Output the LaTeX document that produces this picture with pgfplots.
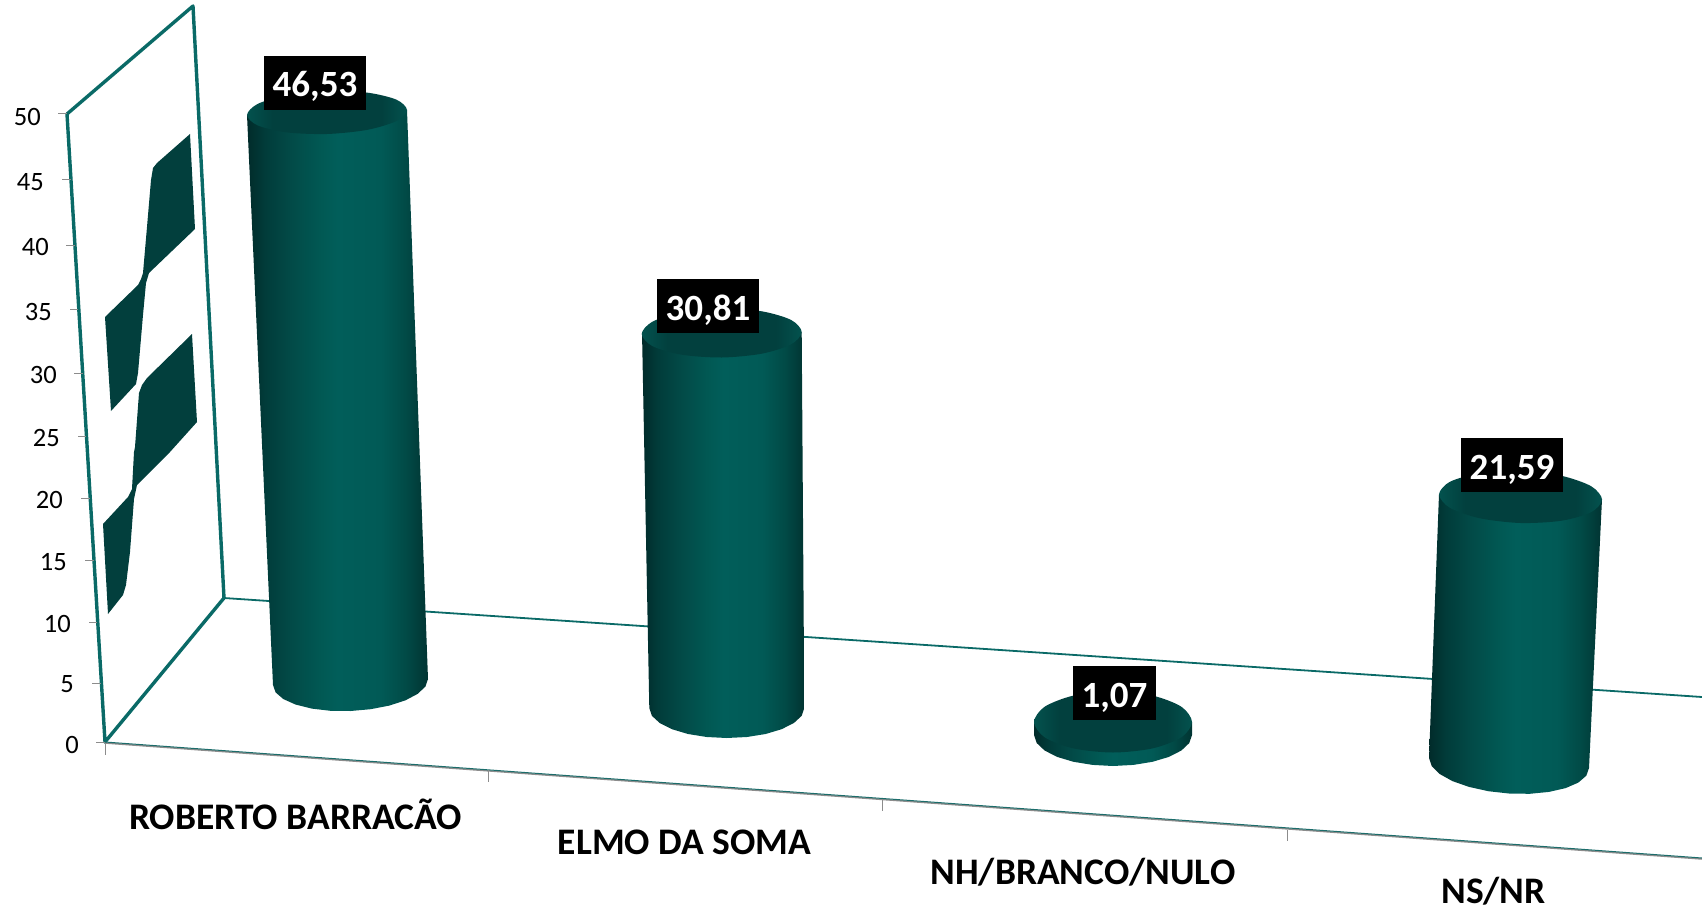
\documentclass[border=0pt]{standalone}
\usepackage{fontspec}
\setmainfont{Carlito}
\usepackage{pgfplots}
\pgfplotsset{compat=1.18}
\definecolor{wallc}{HTML}{0A6A67}
\definecolor{bandc}{HTML}{023F3D}
\definecolor{tickc}{HTML}{8C8C8C}
\definecolor{shA}{HTML}{012B2A}
\definecolor{shA2}{HTML}{013C3A}
\definecolor{shB}{HTML}{024A47}
\definecolor{shC}{HTML}{015853}
\definecolor{shD}{HTML}{015E5A}
\definecolor{shE}{HTML}{015A56}
\definecolor{shF}{HTML}{014A46}
\definecolor{shG}{HTML}{013432}
\definecolor{capA}{HTML}{03524E}
\definecolor{capB}{HTML}{02403E}
\pgfdeclarehorizontalshading{cyl}{100bp}{color(0bp)=(shA); color(25bp)=(shA); color(30bp)=(shA2); color(37bp)=(shB); color(45bp)=(shC); color(50bp)=(shD); color(62bp)=(shE); color(69bp)=(shF); color(75bp)=(shG); color(100bp)=(shG)}
\pgfdeclarehorizontalshading{cap}{100bp}{color(0bp)=(capA); color(25bp)=(capA); color(33bp)=(capB); color(67bp)=(capB); color(75bp)=(capA); color(100bp)=(capA)}
\begin{document}
\begin{tikzpicture}
\begin{axis}[
  hide axis, scale only axis, width=1702pt, height=912pt,
  xmin=0, xmax=1702, ymin=0, ymax=912, y dir=reverse,
  clip=true, unbounded coords=jump]
% wall ribbons
\addplot[fill=bandc, draw=none] coordinates {(190,134)(195,229)(149,273)(146,283)(143,315)(140,350)(138,373)(136,384)(111,411)(105,317)(138,285)(141,279)(143,273)(147,227)(151,180)(153,168)(157,163)(190,134)};
\addplot[fill=bandc, draw=none] coordinates {(192,334)(197,422)(170,452)(137,485)(134,499)(130,552)(126,585)(123,595)(108,614)(103,524)(128,497)(132,489)(134,452)(135,447)(139,393)(142,385)(147,378)(192,334)};
% wall frame and floor
\addplot[draw=wallc, line width=3.4pt, line join=round] coordinates {(67,114)(193,6)(224,598)(105,742)(67,114)};
\addplot[draw=wallc, line width=1.8pt] coordinates {(224,598)(1702,697)};
\addplot[draw=tickc, line width=1.5pt] coordinates {(105,743)(1702,859)};
\addplot[draw=wallc!85!gray, line width=1pt] coordinates {(105,742)(1702,858)};
% tick marks
\addplot[draw=tickc, line width=1pt] coordinates {(96,742)(105,742)(nan,nan)(92,683)(101,683)(nan,nan)(89,622)(97,622)(nan,nan)(85,560)(94,560)(nan,nan)(81,498)(90,498)(nan,nan)(78,436)(86,436)(nan,nan)(74,373)(83,373)(nan,nan)(70,309)(78,309)(nan,nan)(66,245)(75,245)(nan,nan)(62,180)(71,180)(nan,nan)(58,114)(67,114)(nan,nan)(105,743)(105,755)(nan,nan)(488,770)(488,782)(nan,nan)(882,800)(882,811)(nan,nan)(1287,830)(1287,841)};
% cylinder 1 : 46,53
\addplot[shade, shading=cyl, draw=none] coordinates {(247,115)(273,685)(275.6,692.4)(283.4,699.1)(295.7,704.6)(311.75,708.6)(330.4,710.8)(350.5,711)(370.6,709.2)(389.25,705.6)(405.3,700.4)(417.6,693.9)(425.4,686.6)(428,679)(407,110)};
\addplot[shade, shading=cap, draw=none, smooth cycle] coordinates {(407,110)(396.3,121.1)(367,129.9)(327,134)(287,132.4)(257.7,125.4)(247,115)(257.7,103.9)(287,95.1)(327,91)(367,92.6)(396.3,99.6)};
% cylinder 2 : 30,81
\addplot[shade, shading=cyl, draw=none] coordinates {(642,332)(649.3,708)(651.9,715.8)(659.7,723)(672,729.2)(688,734)(706.7,737)(726.8,738)(746.9,737)(765.6,734)(781.6,729.2)(793.9,723)(801.7,715.8)(804.3,708)(801.7,332)};
\addplot[shade, shading=cap, draw=none, smooth cycle] coordinates {(801.7,332)(791,344.4)(761.7,353.7)(721.7,357.5)(681.7,354.7)(652.4,346.1)(641.7,334)(652.4,321.7)(681.7,312.3)(721.7,308.5)(761.7,311.3)(791,319.9)};
% cylinder 3 : 1,07
\addplot[shade, shading=cyl, draw=none] coordinates {(1034,722)(1034,735)(1036.7,743)(1044.6,750.5)(1057.1,756.9)(1073.5,761.8)(1092.6,764.9)(1113,766)(1133.4,764.9)(1152.5,761.8)(1168.9,756.9)(1181.4,750.5)(1189.3,743)(1192,735)(1192,722)};
\addplot[shade, shading=cap, draw=none, smooth cycle] coordinates {(1192,722)(1181.4,737.25)(1152.5,748.4)(1113,752.5)(1073.5,748.4)(1044.6,737.25)(1034,722)(1044.6,706.75)(1073.5,695.6)(1113,691.5)(1152.5,695.6)(1181.4,706.75)};
% cylinder 4 : 21,59
\addplot[shade, shading=cyl, draw=none] coordinates {(1439,494)(1429,758)(1431.7,766.1)(1439.7,774)(1452.4,781.1)(1469,786.9)(1488.3,791.2)(1509,793.5)(1529.7,793.8)(1549,791.9)(1565.6,788.1)(1578.3,782.6)(1586.3,775.7)(1589,768)(1602,499)};
\addplot[shade, shading=cap, draw=none, smooth cycle] coordinates {(1602,499.5)(1591.1,512.2)(1561.25,520.75)(1520.5,523)(1479.75,518.25)(1449.9,507.8)(1439,494.5)(1449.9,481.8)(1479.75,473.25)(1520.5,471)(1561.25,475.75)(1591.1,486.2)};
% value labels
\addplot[draw=none, point meta=explicit symbolic, nodes near coords,
  nodes near coords style={anchor=center, fill=black, text=white, inner sep=0pt,
    minimum width=102pt, text height=41pt, text depth=13pt, font=\fontsize{37}{40}\selectfont\bfseries}]
  table[meta=v] {
x y v
315 83 46,53
708 306 30,81
1512 465 21,59
};
\addplot[draw=none, point meta=explicit symbolic, nodes near coords,
  nodes near coords style={anchor=center, fill=black, text=white, inner sep=0pt,
    minimum width=83pt, text height=41pt, text depth=13pt, font=\fontsize{37}{40}\selectfont\bfseries}]
  table[meta=v] {
x y v
1114.5 693 1,07
};
% value-axis numbers
\addplot[draw=none, point meta=explicit symbolic, nodes near coords,
  nodes near coords style={anchor=east, inner sep=0pt, text=black, font=\fontsize{26.5}{30}\selectfont}]
  table[meta=v] {
x y v
79 745 0
74 684 5
71 624 10
67 562 15
63 500 20
60 438 25
57 375 30
52 312 35
49 247 40
44 182 45
41 117 50
};
% category names
\addplot[draw=none, point meta=explicit symbolic, nodes near coords,
  nodes near coords style={anchor=base, inner sep=0pt, text=black, font=\fontsize{37.5}{40}\selectfont\bfseries}]
  table[meta=v, col sep=semicolon] {
x;y;v
295.5;829;ROBERTO BARRACÃO
684.5;854;ELMO DA SOMA
1083;884;NH/BRANCO/NULO
1493.5;903;NS/NR
};
\end{axis}
\pgfresetboundingbox
\path[use as bounding box] (0,0) rectangle (1702pt,912pt);
\end{tikzpicture}
\end{document}
